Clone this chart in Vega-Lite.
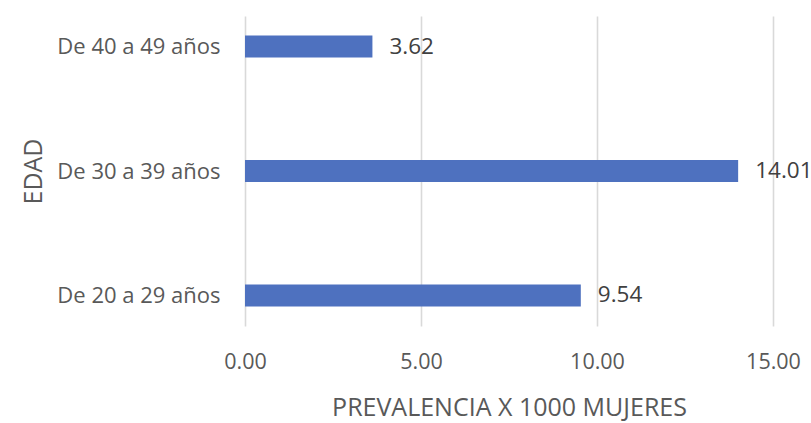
{
  "$schema": "https://vega.github.io/schema/vega-lite/v6.json",
  "autosize": "none",
  "width": 528,
  "height": 310,
  "padding": {"left": 245, "top": 16, "right": 38, "bottom": 97},
  "background": "white",
  "config": {
    "view": {"stroke": null},
    "font": "Open Sans"
  },
  "data": {
    "values": [
      {"edad": "De 40 a 49 años", "prevalencia": 3.62},
      {"edad": "De 30 a 39 años", "prevalencia": 14.01},
      {"edad": "De 20 a 29 años", "prevalencia": 9.54}
    ]
  },
  "encoding": {
    "y": {
      "field": "edad",
      "type": "nominal",
      "sort": ["De 40 a 49 años", "De 30 a 39 años", "De 20 a 29 años"],
      "scale": {"type": "point", "padding": 0.245},
      "axis": {
        "title": "EDAD",
        "titleFont": "Open Sans",
        "titleFontSize": 25,
        "titleFontWeight": "normal",
        "titleColor": "#595959",
        "titleX": -212,
        "titleY": 155,
        "titleAngle": -90,
        "titleAlign": "center",
        "titleBaseline": "middle",
        "domain": false,
        "ticks": false,
        "tickSize": 0,
        "grid": false,
        "labelPadding": 25,
        "labelFontSize": 22,
        "labelColor": "#595959",
        "labelFont": "Open Sans"
      }
    },
    "x": {
      "field": "prevalencia",
      "type": "quantitative",
      "scale": {"domain": [0, 15], "nice": false},
      "axis": {
        "title": "PREVALENCIA X 1000 MUJERES",
        "titleFont": "Open Sans",
        "titleFontSize": 25,
        "titleFontWeight": "normal",
        "titleColor": "#595959",
        "titleY": 81,
        "titleBaseline": "middle",
        "values": [0, 5, 10, 15],
        "format": ".2f",
        "domain": false,
        "ticks": false,
        "tickSize": 0,
        "grid": true,
        "gridColor": "#d9d9d9",
        "gridWidth": 1.6,
        "labelPadding": 25,
        "labelFontSize": 21.5,
        "labelColor": "#595959",
        "labelFont": "Open Sans",
        "labelFlush": false
      }
    }
  },
  "layer": [
    {
      "mark": {"type": "bar", "height": 22, "color": "#4e71bf"}
    },
    {
      "mark": {
        "type": "text",
        "align": "left",
        "baseline": "middle",
        "dx": 17,
        "fontSize": 22.5,
        "color": "#404040",
        "font": "Open Sans"
      },
      "encoding": {
        "text": {"field": "prevalencia", "type": "quantitative", "format": ".2f"}
      }
    }
  ]
}
